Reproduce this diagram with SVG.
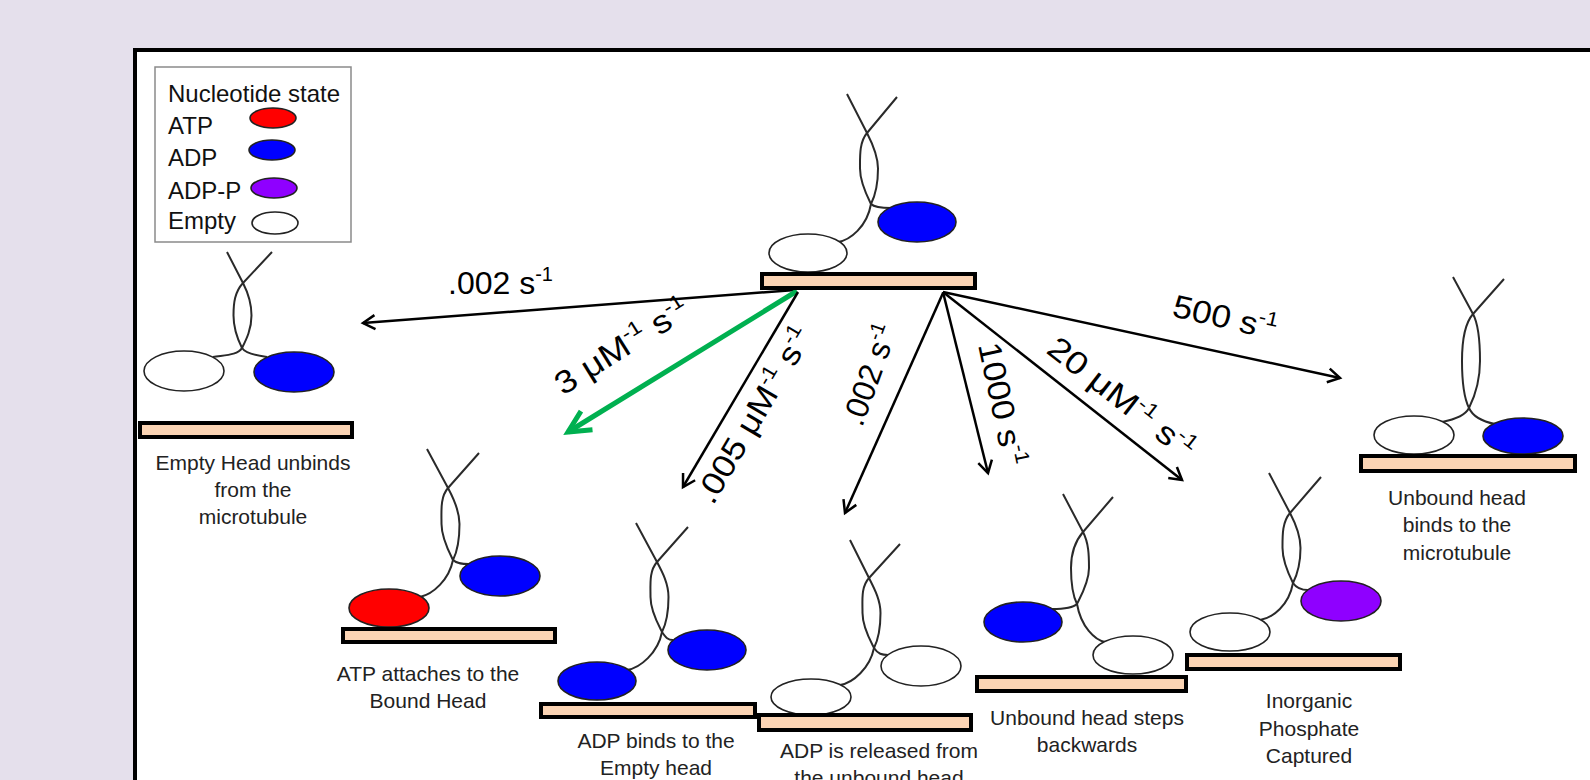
<svg xmlns="http://www.w3.org/2000/svg" width="1590" height="780" viewBox="0 0 1590 780">
<style>
.bar{fill:#fbd4b4;stroke:#000;stroke-width:4}
.hd{stroke:#222;stroke-width:1.6}
.em{fill:#fff}
.adp{fill:#0000ff}
.atp{fill:#ff0000}
.adpp{fill:#8f00ff}
.neck{fill:none;stroke:#2a2a2a;stroke-width:2}
.cap{font-family:"Liberation Sans",Arial,sans-serif;font-size:21px;fill:#222;text-anchor:middle}
.lg{font-family:"Liberation Sans",Arial,sans-serif;font-size:24px;fill:#111}
.rate{font-family:"Liberation Sans",Arial,sans-serif;font-size:32px;fill:#000}
.sup{font-size:20px}
.arr{fill:none;stroke:#000;stroke-width:2.5;marker-end:url(#ah)}
.garr{fill:none;stroke:#00b050;stroke-width:5;marker-end:url(#gh)}
</style>
<defs>
<marker id="ah" markerUnits="userSpaceOnUse" viewBox="-16 -10 20 20" markerWidth="20" markerHeight="20" refX="0" refY="0" orient="auto">
<path d="M-12,-7 L0,0 L-12,7" fill="none" stroke="#000" stroke-width="2.5"/>
</marker>
<marker id="gh" markerUnits="userSpaceOnUse" viewBox="-28 -16 34 32" markerWidth="34" markerHeight="32" refX="0" refY="0" orient="auto">
<path d="M-22,-11 L0,0 L-22,11" fill="none" stroke="#00b050" stroke-width="5"/>
</marker>
</defs>
<rect x="0" y="0" width="1590" height="780" fill="#e5e0ec"/>
<rect x="135" y="50" width="1500" height="800" fill="#fff" stroke="#000" stroke-width="4"/>

<g id="legend">
<rect x="155" y="67" width="196" height="175" fill="#fff" stroke="#8a8a8a" stroke-width="1.5"/>
<text class="lg" x="168" y="102">Nucleotide state</text>
<text class="lg" x="168" y="134">ATP</text>
<text class="lg" x="168" y="166">ADP</text>
<text class="lg" x="168" y="199">ADP-P</text>
<text class="lg" x="168" y="229">Empty</text>
<ellipse class="hd atp" cx="273" cy="118" rx="23" ry="10"/>
<ellipse class="hd adp" cx="272" cy="150" rx="23" ry="10"/>
<ellipse class="hd adpp" cx="274" cy="188" rx="23" ry="10"/>
<ellipse class="hd em" cx="275" cy="223" rx="23" ry="11" stroke="#555"/>
</g>

<g id="connectors">
<path class="arr" d="M795,290 L363,323"/>
<path class="garr" d="M797,291 L568,432"/>
<path class="arr" d="M798,292 L683,487"/>
<path class="arr" d="M943,293 L845,513"/>
<path class="arr" d="M943,292 L988,473"/>
<path class="arr" d="M943,292 L1182,480"/>
<path class="arr" d="M943,292 L1340,378"/>
<text class="rate" x="448" y="294">.002 s<tspan class="sup" dy="-13">-1</tspan></text>
<text class="rate" transform="translate(563,396) rotate(-32) scale(1.15,1)">3 μM<tspan class="sup" dy="-13">-1</tspan><tspan dy="13"> s</tspan><tspan class="sup" dy="-13">-1</tspan></text>
<text class="rate" transform="translate(713,506) rotate(-59.5) scale(1.12,1)">.005 μM<tspan class="sup" dy="-13">-1</tspan><tspan dy="13"> s</tspan><tspan class="sup" dy="-13">-1</tspan></text>
<text class="rate" transform="translate(862,428) rotate(-70)">.002 s<tspan class="sup" dy="-13">-1</tspan></text>
<text class="rate" transform="translate(978,345) rotate(78) scale(1.1,1)">1000 s<tspan class="sup" dy="-13">-1</tspan></text>
<text class="rate" transform="translate(1045,352) rotate(38) scale(1.18,1)">20 μM<tspan class="sup" dy="-13">-1</tspan><tspan dy="13"> s</tspan><tspan class="sup" dy="-13">-1</tspan></text>
<text class="rate" transform="translate(1171,316) rotate(13) scale(1.1,1)">500 s<tspan class="sup" dy="-13">-1</tspan></text>
</g>

<g id="node-top">
<path class="neck" d="M847,94 L867,133 C872.5,143.7 878,156 878,168.5 C878,182.5 875,196 871,204 C867,227 850,240 838,242"/>
<path class="neck" d="M897,97 L867,133 C859.3,142.2 860,156 860,168.5 C860,182.5 867,196 871,204 C875,208 885,208 891,208"/>
<ellipse class="hd em" cx="808" cy="253" rx="39" ry="19"/>
<ellipse class="hd adp" cx="917" cy="222" rx="39" ry="20"/>
<rect class="bar" x="762" y="274" width="213" height="14"/>
</g>

<g id="node-empty-unbinds">
<path class="neck" d="M227,252 L243,283 C248.5,293.7 251.5,303 251.5,315.5 C251.5,329.5 246,340 242,348 C238,355 225,355 213,357"/>
<path class="neck" d="M272,252 L243,283 C234.8,291.8 233.5,303 233.5,315.5 C233.5,329.5 238,340 242,348 C246,354 259,356 267,357"/>
<ellipse class="hd em" cx="184" cy="371" rx="40" ry="20"/>
<ellipse class="hd adp" cx="294" cy="372" rx="40" ry="20"/>
<rect class="bar" x="140" y="423" width="212" height="14"/>
<text class="cap" x="253" y="470">Empty Head unbinds</text>
<text class="cap" x="253" y="497">from the</text>
<text class="cap" x="253" y="524">microtubule</text>
</g>

<g id="node-atp-attaches">
<path class="neck" d="M427,449 L448,488 C453.7,498.6 459.5,511 459.5,524 C459.5,538 457,552 453,560 C449,580 433,594 420,597"/>
<path class="neck" d="M479,453 L448,488 C440.1,497 441.5,511 441.5,524 C441.5,538 449,552 453,560 C457,564 463,564 469,564"/>
<ellipse class="hd atp" cx="389" cy="608" rx="40" ry="19"/>
<ellipse class="hd adp" cx="500" cy="576" rx="40" ry="20"/>
<rect class="bar" x="343" y="629" width="212" height="13"/>
<text class="cap" x="428" y="681">ATP attaches to the</text>
<text class="cap" x="428" y="708">Bound Head</text>
</g>

<g id="node-adp-binds">
<path class="neck" d="M636,523 L657,562 C662.7,572.6 668.5,584 668.5,597 C668.5,611 666,624 662,632 C658,653 640,668 627,670"/>
<path class="neck" d="M688,527 L657,562 C649.1,571 650.5,584 650.5,597 C650.5,611 658,624 662,632 C666,638 668,640 673,640"/>
<ellipse class="hd adp" cx="597" cy="681" rx="39" ry="19"/>
<ellipse class="hd adp" cx="707" cy="650" rx="39" ry="20"/>
<rect class="bar" x="541" y="704" width="214" height="13"/>
<text class="cap" x="656" y="748">ADP binds to the</text>
<text class="cap" x="656" y="775">Empty head</text>
</g>

<g id="node-adp-released">
<path class="neck" d="M850,540 L869,578 C874.4,588.7 880.5,600 880.5,613 C880.5,627 878,640 874,648 C870,668 853,683 840,685"/>
<path class="neck" d="M900,544 L869,578 C860.9,586.9 862.5,600 862.5,613 C862.5,627 870,640 874,648 C878,654 882,655 888,655"/>
<ellipse class="hd em" cx="811" cy="697" rx="40" ry="18"/>
<ellipse class="hd em" cx="921" cy="666" rx="40" ry="20"/>
<rect class="bar" x="759" y="715" width="212" height="15"/>
<text class="cap" x="879" y="758">ADP is released from</text>
<text class="cap" x="879" y="785">the unbound head</text>
</g>

<g id="node-steps-backwards">
<path class="neck" d="M1063,494 L1083,532 C1088.6,542.6 1089,555 1089,568 C1089,582 1081,596 1077,604 C1073,608 1060,609 1052,609"/>
<path class="neck" d="M1113,497 L1083,532 C1075.2,541.1 1071,555 1071,568 C1071,582 1073,596 1077,604 C1081,627 1095,640 1105,642"/>
<ellipse class="hd adp" cx="1023" cy="622" rx="39" ry="20"/>
<ellipse class="hd em" cx="1133" cy="655" rx="40" ry="19"/>
<rect class="bar" x="977" y="677" width="209" height="14"/>
<text class="cap" x="1087" y="725">Unbound head steps</text>
<text class="cap" x="1087" y="752">backwards</text>
</g>

<g id="node-phosphate">
<path class="neck" d="M1269,473 L1290,513 C1295.6,523.6 1300.5,535 1300.5,548 C1300.5,562 1297,575 1293,583 C1289,605 1273,618 1260,620"/>
<path class="neck" d="M1321,477 L1290,513 C1282.2,522.1 1282.5,535 1282.5,548 C1282.5,562 1289,575 1293,583 C1297,589 1302,590 1308,590"/>
<ellipse class="hd em" cx="1230" cy="632" rx="40" ry="19"/>
<ellipse class="hd adpp" cx="1341" cy="601" rx="40" ry="20"/>
<rect class="bar" x="1187" y="655" width="213" height="14"/>
<text class="cap" x="1309" y="708">Inorganic</text>
<text class="cap" x="1309" y="736">Phosphate</text>
<text class="cap" x="1309" y="763">Captured</text>
</g>

<g id="node-unbound-binds">
<path class="neck" d="M1453,277 L1473,314 C1478.7,324.6 1480,340 1480,361 C1480,382 1473,400 1469,408 C1465,416 1452,420 1442,422"/>
<path class="neck" d="M1504,279 L1473,314 C1465.1,323 1462,340 1462,361 C1462,382 1465,400 1469,408 C1473,417 1485,422 1495,424"/>
<ellipse class="hd em" cx="1414" cy="435" rx="40" ry="19"/>
<ellipse class="hd adp" cx="1523" cy="436" rx="40" ry="18"/>
<rect class="bar" x="1361" y="456" width="214" height="15"/>
<text class="cap" x="1457" y="505">Unbound head</text>
<text class="cap" x="1457" y="532">binds to the</text>
<text class="cap" x="1457" y="560">microtubule</text>
</g>
</svg>
